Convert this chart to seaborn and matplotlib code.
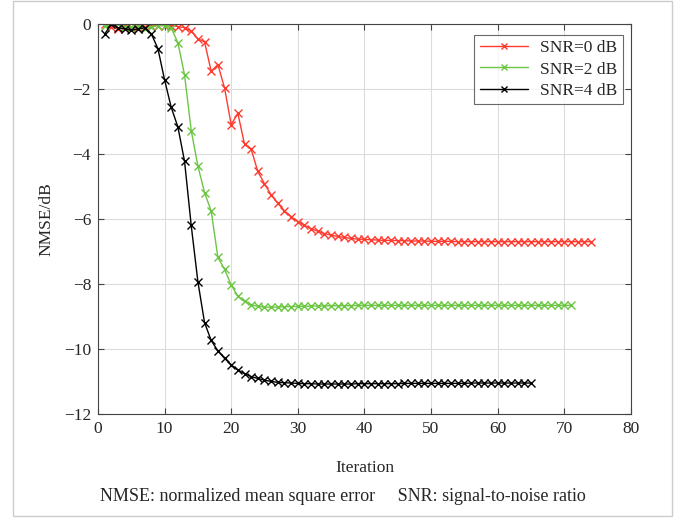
import numpy as np
import pandas as pd
import matplotlib
matplotlib.use("Agg")
import matplotlib.pyplot as plt
import seaborn as sns
from matplotlib.patches import Rectangle

# --- data ---
snr0 = [0.00, -0.10, -0.15, -0.05, -0.10, -0.12, -0.08, -0.05, -0.05, -0.05,
        -0.05, -0.08, -0.12, -0.22, -0.46, -0.55, -1.46, -1.25, -1.97, -3.10,
        -2.75, -3.70, -3.86, -4.54, -4.92, -5.26, -5.52, -5.75, -5.93, -6.08,
        -6.20, -6.30, -6.38, -6.45, -6.50, -6.54, -6.57, -6.60, -6.62, -6.63,
        -6.64, -6.65, -6.66, -6.66, -6.67, -6.67, -6.68, -6.68, -6.68, -6.69,
        -6.69, -6.69, -6.69, -6.70, -6.70, -6.70, -6.70, -6.70, -6.70, -6.70,
        -6.70, -6.70, -6.70, -6.70, -6.70, -6.70, -6.70, -6.70, -6.70, -6.70,
        -6.70, -6.70, -6.70, -6.70]
snr2 = [-0.05, 0.05, 0.00, -0.10, -0.10, -0.05, -0.15, -0.10, -0.05, -0.05,
        -0.13, -0.58, -1.57, -3.28, -4.37, -5.19, -5.76, -7.18, -7.55, -8.03,
        -8.38, -8.54, -8.64, -8.69, -8.71, -8.72, -8.71, -8.70, -8.70, -8.69,
        -8.69, -8.68, -8.68, -8.68, -8.67, -8.67, -8.67, -8.67, -8.66, -8.66,
        -8.66, -8.66, -8.66, -8.66, -8.66, -8.66, -8.66, -8.66, -8.66, -8.66,
        -8.66, -8.66, -8.66, -8.66, -8.66, -8.66, -8.66, -8.66, -8.66, -8.66,
        -8.66, -8.66, -8.66, -8.66, -8.66, -8.66, -8.66, -8.66, -8.66, -8.66,
        -8.66]
snr4 = [-0.32, 0.00, -0.12, -0.15, -0.20, -0.15, -0.12, -0.30, -0.76, -1.72,
        -2.57, -3.17, -4.23, -6.20, -7.93, -9.19, -9.74, -10.06, -10.29, -10.49,
        -10.65, -10.76, -10.85, -10.91, -10.96, -11.00, -11.03, -11.04, -11.05, -11.06,
        -11.07, -11.07, -11.08, -11.08, -11.08, -11.08, -11.08, -11.08, -11.07, -11.07,
        -11.07, -11.07, -11.07, -11.07, -11.07, -11.06, -11.06, -11.06, -11.06, -11.06,
        -11.06, -11.06, -11.06, -11.06, -11.06, -11.05, -11.05, -11.05, -11.05, -11.05,
        -11.05, -11.05, -11.05, -11.05, -11.05]
labels = ["SNR=0 dB", "SNR=2 dB", "SNR=4 dB"]
colors = ["#ff3a2e", "#6cc644", "#000000"]
xticks = [0, 10, 20, 30, 40, 50, 60, 70, 80]
yticks = [0, -2, -4, -6, -8, -10, -12]

frames = []
for lab, vals in zip(labels, [snr0, snr2, snr4]):
    frames.append(pd.DataFrame({"Iteration": np.arange(1, len(vals) + 1),
                                "NMSE": vals, "SNR": lab}))
df = pd.concat(frames, ignore_index=True)

# --- style ---
sns.set_style("ticks")
plt.rcParams['font.family'] = ['Liberation Serif', 'DejaVu Serif']
plt.rcParams['axes.unicode_minus'] = True

fig = plt.figure(figsize=(6.85, 5.2), dpi=100)
ax = fig.add_axes([0.143, 0.204, 0.778, 0.750])

sns.lineplot(data=df, x="Iteration", y="NMSE", hue="SNR", palette=colors,
             marker="x", markersize=6, linewidth=1.0,
             dashes=False, ax=ax, legend=True)
# seaborn paints marker edges white; MATLAB-style x markers need the line colour
for ln in ax.lines:
    ln.set_markeredgecolor(ln.get_color())
    ln.set_markeredgewidth(1.0)

ax.set_xlim(0, 80)
ax.set_ylim(-12, 0)
ax.set_xticks(xticks)
ax.set_yticks(yticks)
ax.set_yticklabels(["0"] + ["\u2212" + str(-t) for t in yticks[1:]])
ax.grid(True, color="#dcdcdc", linewidth=0.8)
ax.tick_params(direction="in", top=True, right=True, length=4,
               labelsize=12.5, color="#444444", pad=5)
for s in ax.spines.values():
    s.set_color("#444444")
    s.set_linewidth(0.8)

ax.set_xlabel("Iteration", fontsize=12.5, labelpad=17)
ax.set_ylabel("NMSE/dB", fontsize=12.5, labelpad=7)

leg = ax.legend(loc="upper right", bbox_to_anchor=(0.985, 0.972), fontsize=12.5,
                frameon=True, fancybox=False, edgecolor="#444444",
                handlelength=2.8, borderpad=0.3, labelspacing=0.3,
                handletextpad=0.7, borderaxespad=0)
leg.get_frame().set_linewidth(0.8)
for h in leg.get_lines():
    h.set_markeredgecolor(h.get_color())
    h.set_markeredgewidth(1.0)
    h.set_markersize(5)

fig.text(0.5, 0.045, "NMSE: normalized mean square error     SNR: signal-to-noise ratio",
         ha="center", va="center", fontsize=13)

fig.add_artist(Rectangle((0.019, 0.008), 0.962, 0.99, transform=fig.transFigure,
                         fill=False, edgecolor="#cccccc", linewidth=1.0))

fig.savefig("out.png", dpi=100)
